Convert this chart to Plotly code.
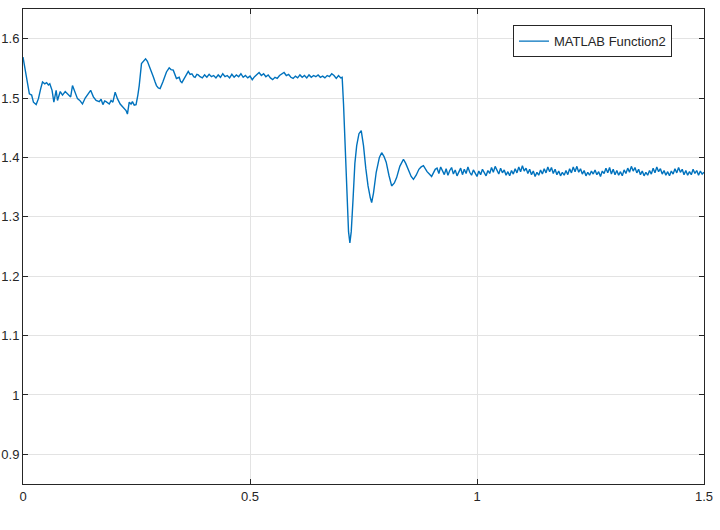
import plotly.graph_objects as go

# hand-read samples of the signal
t_start = [0.000, 0.004, 0.008, 0.014, 0.019, 0.023, 0.029, 0.034, 0.039, 0.043,
           0.048, 0.052, 0.056, 0.059, 0.064, 0.068, 0.073, 0.076, 0.082, 0.087,
           0.093, 0.100, 0.105, 0.109, 0.115, 0.120, 0.125, 0.131, 0.137, 0.144,
           0.149, 0.155, 0.161, 0.168, 0.172, 0.176, 0.180, 0.183, 0.190, 0.194,
           0.198, 0.203, 0.208, 0.214, 0.221, 0.227, 0.230, 0.234, 0.238, 0.241,
           0.245, 0.249, 0.253, 0.256, 0.261, 0.265, 0.270, 0.274, 0.278, 0.283,
           0.287, 0.291, 0.294, 0.298, 0.302, 0.308, 0.312, 0.316, 0.322, 0.326,
           0.331, 0.335, 0.338, 0.344, 0.347, 0.350, 0.354, 0.357, 0.361, 0.364,
           0.368, 0.372, 0.376, 0.379, 0.383, 0.386, 0.390]
y_start = [1.569, 1.550, 1.533, 1.507, 1.505, 1.493, 1.489, 1.499, 1.516, 1.527,
           1.524, 1.526, 1.522, 1.524, 1.513, 1.493, 1.513, 1.496, 1.511, 1.505,
           1.511, 1.505, 1.502, 1.521, 1.507, 1.499, 1.496, 1.490, 1.500, 1.507,
           1.513, 1.502, 1.496, 1.494, 1.498, 1.489, 1.495, 1.494, 1.490, 1.496,
           1.493, 1.510, 1.499, 1.490, 1.485, 1.479, 1.473, 1.493, 1.490, 1.494,
           1.488, 1.489, 1.505, 1.521, 1.558, 1.562, 1.566, 1.562, 1.555, 1.545,
           1.536, 1.527, 1.521, 1.517, 1.516, 1.527, 1.536, 1.544, 1.551, 1.548,
           1.547, 1.540, 1.533, 1.535, 1.528, 1.526, 1.532, 1.535, 1.542, 1.545,
           1.540, 1.541, 1.536, 1.535, 1.540, 1.539, 1.536]

t_plateau = [0.395, 0.400, 0.405, 0.410, 0.415, 0.420, 0.425, 0.430, 0.435, 0.440,
             0.445, 0.450, 0.455, 0.460, 0.465, 0.470, 0.475, 0.480, 0.485, 0.490,
             0.495, 0.500, 0.505, 0.510, 0.515, 0.520, 0.525, 0.530, 0.535, 0.540,
             0.545, 0.550, 0.555, 0.560, 0.565, 0.570, 0.575, 0.580, 0.585, 0.590,
             0.595, 0.600, 0.605, 0.610, 0.615, 0.620, 0.625, 0.630, 0.635, 0.640,
             0.645, 0.650, 0.655, 0.660, 0.665, 0.670, 0.675, 0.680, 0.685, 0.690,
             0.695, 0.700]
y_plateau = [1.534, 1.539, 1.535, 1.540, 1.536, 1.538, 1.534, 1.539, 1.535, 1.541,
             1.536, 1.538, 1.534, 1.540, 1.535, 1.539, 1.536, 1.541, 1.535, 1.538,
             1.534, 1.537, 1.531, 1.536, 1.540, 1.543, 1.538, 1.541, 1.536, 1.539,
             1.534, 1.531, 1.535, 1.533, 1.538, 1.541, 1.543, 1.538, 1.540, 1.535,
             1.533, 1.537, 1.534, 1.539, 1.535, 1.538, 1.534, 1.539, 1.535, 1.538,
             1.536, 1.539, 1.535, 1.537, 1.534, 1.538, 1.536, 1.541, 1.538, 1.533,
             1.538, 1.534]

t_dip = [0.703, 0.706, 0.710, 0.714, 0.717, 0.720, 0.723, 0.727, 0.731, 0.735,
         0.740, 0.745, 0.750, 0.755, 0.760, 0.765, 0.768, 0.772, 0.778, 0.785,
         0.790, 0.795, 0.800, 0.806, 0.812, 0.818, 0.823, 0.830, 0.834, 0.838,
         0.843, 0.849, 0.855, 0.860, 0.866, 0.872, 0.877, 0.882, 0.886, 0.890,
         0.895, 0.900, 0.904, 0.908]
y_dip = [1.535, 1.490, 1.400, 1.320, 1.275, 1.256, 1.275, 1.330, 1.390, 1.420,
         1.440, 1.445, 1.420, 1.382, 1.352, 1.332, 1.324, 1.340, 1.375, 1.400,
         1.408, 1.402, 1.392, 1.370, 1.352, 1.357, 1.366, 1.385, 1.392, 1.397,
         1.390, 1.378, 1.368, 1.363, 1.370, 1.380, 1.384, 1.386, 1.380, 1.376,
         1.372, 1.368, 1.374, 1.380]

t_tail = [0.912, 0.916, 0.920, 0.924, 0.928, 0.932, 0.936, 0.940, 0.944, 0.948,
          0.952, 0.956, 0.960, 0.964, 0.968, 0.972, 0.976, 0.980, 0.984, 0.988,
          0.992, 0.996, 1.000, 1.004, 1.008, 1.012, 1.016, 1.020, 1.024, 1.028,
          1.032, 1.036, 1.040, 1.044, 1.048, 1.052, 1.056, 1.060, 1.064, 1.068,
          1.072, 1.076, 1.080, 1.084, 1.088, 1.092, 1.096, 1.100, 1.104, 1.108,
          1.112, 1.116, 1.120, 1.124, 1.128, 1.132, 1.136, 1.140, 1.144, 1.148,
          1.152, 1.156, 1.160, 1.164, 1.168, 1.172, 1.176, 1.180, 1.184, 1.188,
          1.192, 1.196, 1.200, 1.204, 1.208, 1.212, 1.216, 1.220, 1.224, 1.228,
          1.232, 1.236, 1.240, 1.244, 1.248, 1.252, 1.256, 1.260, 1.264, 1.268,
          1.272, 1.276, 1.280, 1.284, 1.288, 1.292, 1.296, 1.300, 1.304, 1.308,
          1.312, 1.316, 1.320, 1.324, 1.328, 1.332, 1.336, 1.340, 1.344, 1.348,
          1.352, 1.356, 1.360, 1.364, 1.368, 1.372, 1.376, 1.380, 1.384, 1.388,
          1.392, 1.396, 1.400, 1.404, 1.408, 1.412, 1.416, 1.420, 1.424, 1.428,
          1.432, 1.436, 1.440, 1.444, 1.448, 1.452, 1.456, 1.460, 1.464, 1.468,
          1.472, 1.476, 1.480, 1.484, 1.488, 1.492, 1.496, 1.500]
y_tail = [1.382, 1.373, 1.384, 1.376, 1.371, 1.381, 1.370, 1.378, 1.383, 1.372,
          1.379, 1.369, 1.376, 1.382, 1.371, 1.380, 1.373, 1.384, 1.375, 1.370,
          1.379, 1.372, 1.368, 1.377, 1.371, 1.380, 1.374, 1.369, 1.378, 1.373,
          1.383, 1.375, 1.385, 1.377, 1.372, 1.382, 1.374, 1.379, 1.370, 1.376,
          1.369, 1.378, 1.372, 1.381, 1.374, 1.384, 1.376, 1.386, 1.377, 1.382,
          1.373, 1.380, 1.371, 1.377, 1.368, 1.375, 1.370, 1.379, 1.372, 1.381,
          1.374, 1.384, 1.376, 1.383, 1.373, 1.380, 1.371, 1.377, 1.369, 1.375,
          1.370, 1.378, 1.371, 1.381, 1.374, 1.384, 1.376, 1.385, 1.375, 1.381,
          1.372, 1.378, 1.369, 1.375, 1.370, 1.377, 1.372, 1.379, 1.371, 1.376,
          1.368, 1.377, 1.373, 1.382, 1.374, 1.383, 1.372, 1.380, 1.371, 1.378,
          1.370, 1.376, 1.369, 1.379, 1.373, 1.382, 1.375, 1.385, 1.377, 1.383,
          1.374, 1.380, 1.371, 1.377, 1.369, 1.375, 1.370, 1.378, 1.372, 1.382,
          1.374, 1.384, 1.376, 1.381, 1.372, 1.378, 1.370, 1.376, 1.369, 1.377,
          1.372, 1.381, 1.374, 1.383, 1.375, 1.380, 1.371, 1.378, 1.370, 1.376,
          1.371, 1.380, 1.373, 1.378, 1.370, 1.377, 1.372, 1.375]

t = t_start + t_plateau + t_dip + t_tail
y = y_start + y_plateau + y_dip + y_tail

fig = go.Figure()
fig.add_trace(go.Scatter(x=t, y=y, mode="lines", name="MATLAB Function2",
                         line={"color": "#0072BD", "width": 1.4}))

axis_style = dict(showline=True, linecolor="#262626", linewidth=1, mirror="ticks",
                  ticks="inside", ticklen=5, tickcolor="#262626", automargin=False,
                  showgrid=True, gridcolor="#e3e3e3", gridwidth=1, zeroline=False,
                  tickfont={"size": 13, "color": "#262626"})

fig.update_layout(
    width=720, height=530,
    margin={"l": 23, "r": 16, "t": 9, "b": 46},
    paper_bgcolor="white", plot_bgcolor="white",
    font={"family": "Liberation Sans, Arial, sans-serif", "color": "#262626"},
    showlegend=True,
    legend={"x": 0.953, "y": 0.966, "xanchor": "right", "yanchor": "top",
            "bordercolor": "#262626", "borderwidth": 1, "bgcolor": "white",
            "font": {"size": 13}},
)
fig.update_xaxes(range=[0, 1.5], tickvals=[0, 0.5, 1, 1.5], ticktext=["0", "0.5", "1", "1.5"], **axis_style)
fig.update_yaxes(range=[0.85, 1.65], dtick=0.1, tick0=0.9, **axis_style)

# drop the browser's default page margin so the figure sits at the window corner
fig.write_html("out.html", config={"displayModeBar": False},
               post_script="document.body.style.margin='0';document.body.style.overflow='hidden';")
